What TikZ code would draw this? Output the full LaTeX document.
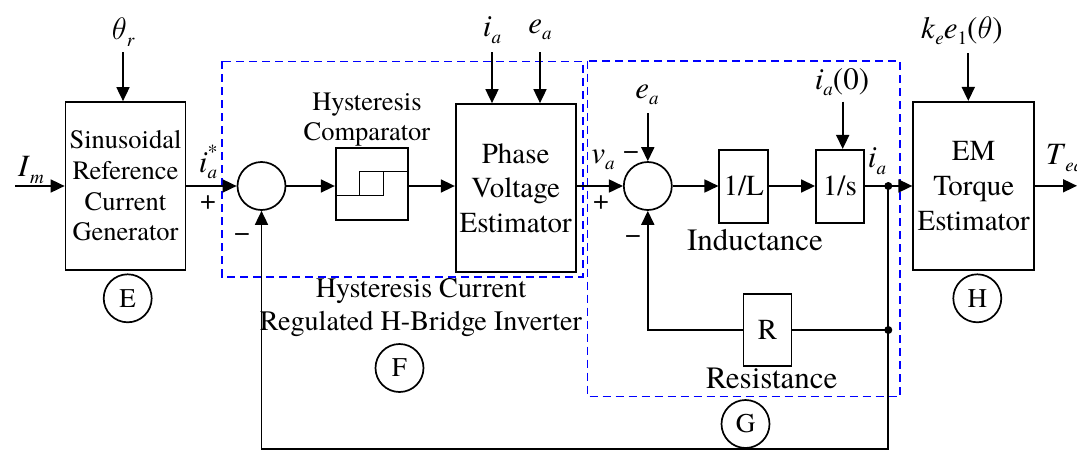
\RequirePackage{fix-cm}
\documentclass[tikz,border=0pt]{standalone}
\usepackage{fontspec}
\setmainfont{texgyretermes}[Extension=.otf, UprightFont=*-regular, ItalicFont=*-italic, BoldFont=*-bold, BoldItalicFont=*-bolditalic]
\usetikzlibrary{arrows.meta}
\newcommand\sbx[1]{\raisebox{-6.5pt}{\fontsize{19}{19}\selectfont\itshape #1}}
\newcommand\sbu[1]{\raisebox{-6.5pt}{\fontsize{19}{19}\selectfont #1}}
\newcommand\spx[1]{\raisebox{14pt}{\fontsize{20}{20}\selectfont #1}}
\newcommand\thx{$\theta$}
\begin{document}
\begin{tikzpicture}[x=1pt,y=-1pt,
  line width=1.7pt,
  >={Triangle[length=14pt,width=13pt]},
  blk/.style={draw,inner sep=0pt,align=center,font=\fontsize{29}{34.5}\selectfont},
  smallblk/.style={draw,inner sep=0pt,font=\fontsize{29}{29}\selectfont},
  sumc/.style={draw,circle,minimum size=48pt,inner sep=0pt},
  tagc/.style={draw,circle,minimum size=48pt,inner sep=0pt,font=\fontsize{27}{27}\selectfont},
  lab/.style={inner sep=0pt,font=\fontsize{31}{31}\selectfont},
  sgn/.style={inner sep=0pt,font=\fontsize{28}{28}\selectfont},
  txt/.style={inner sep=0pt,align=center,font=\fontsize{31}{32}\selectfont},
  grp/.style={draw=blue,dash pattern=on 8pt off 5pt,line width=1.6pt},
  jdot/.style={circle,fill,inner sep=0pt,minimum size=8pt},
]
\useasboundingbox (0,0) rectangle (1077,450);

% group frames
\draw[grp] (221.7,61.3) rectangle (582.7,276.7);
\draw[grp] (587.5,60.7) rectangle (900,396.5);

% blocks
\node[blk,minimum width=120pt,minimum height=168pt,font=\fontsize{26.5}{30.7}\selectfont] (E) at (125.5,186) {Sinusoidal\\Reference\\Current\\Generator};
\node[sumc] (S1) at (261.5,186) {};
\node[draw,minimum width=72pt,minimum height=72pt,inner sep=0pt] (HC) at (371.7,184.2) {};
\draw[line width=1.5pt] ([shift={(-36,11.5)}]HC.center) -- ([shift={(12,11.5)}]HC.center) -- ([shift={(12,-12.5)}]HC.center)
      ([shift={(-12,11.5)}]HC.center) -- ([shift={(-12,-12.5)}]HC.center) -- ([shift={(36,-12.5)}]HC.center);
\node[txt,font=\fontsize{26.5}{30}\selectfont] (HCt) at (367,120) {Hysteresis\\Comparator};
\node[blk,minimum width=120pt,minimum height=168pt] (PVE) at (515.7,188) {Phase\\Voltage\\Estimator};
\node[sumc] (S2) at (647.8,186) {};
\node[smallblk,minimum width=49pt,minimum height=73pt] (L) at (743.8,186.3) {1/L};
\node[smallblk,minimum width=48pt,minimum height=73pt] (Int) at (839.9,186.3) {1/s};
\node[txt] (Lt) at (755,240) {Inductance};
\node[smallblk,minimum width=48pt,minimum height=72pt] (R) at (767.5,330) {R};
\node[txt] (Rt) at (771.7,378) {Resistance};
\node[blk,minimum width=121pt,minimum height=168pt,font=\fontsize{29}{35}\selectfont] (H) at (973.7,185.8) {EM\\Torque\\Estimator};
\node[txt,font=\fontsize{28.2}{33}\selectfont] (Ft) at (421,308) {Hysteresis Current\\Regulated H-Bridge Inverter};

% tags
\node[tagc] (tE) at (127.7,298.3) {E};
\node[tagc] (tF) at (399.5,368) {F};
\node[tagc] (tG) at (745.5,424) {G};
\node[tagc] (tH) at (977.3,298.3) {H};

% labels
\node[lab] (lth) at (123,32) {\thx\sbx{r}};
\node[lab] (lIm) at (31,170) {\textit{I}\sbx{m}};
\node[lab] (lis) at (208,162) {\textit{i}\rlap{\spx{*}}\sbx{a}};
\node[sgn] (p1) at (208,203) {+};
\node[sgn] (m1) at (242,238) {−};
\node[lab] (lia) at (492,30) {\textit{i}\sbx{a}};
\node[lab] (lea) at (540,30) {\textit{e}\sbx{a}};
\node[lab] (lva) at (603,160) {\textit{v}\sbx{a}};
\node[sgn] (m2) at (631,156) {−};
\node[sgn] (p2) at (601,203) {+};
\node[lab] (lea2) at (647,95) {\textit{e}\sbx{a}};
\node[sgn] (m3) at (633,240) {−};
\node[lab] (li0) at (842,82) {\textit{i}\sbx{a}(0)};
\node[lab] (lia2) at (877,161) {\textit{i}\sbx{a}};
\node[lab] (lke) at (962,31) {\textit{k}\sbx{e}\textit{e}\sbu{1}(\thx)};
\node[lab,anchor=west] (lT) at (1045,158) {\textit{T}\sbx{ea}};

% coordinates for free ends
\coordinate (cIm) at (15,186);
\coordinate (cth) at (123,52);
\coordinate (cia) at (492,52);
\coordinate (cea) at (540,52);
\coordinate (cea2) at (647.8,113);
\coordinate (ci0) at (842.7,101.7);
\coordinate (cke) at (968.3,53);
\coordinate (cout) at (1077,186);
\coordinate (B1) at (888.3,449);

% junctions
\node[jdot] (D1) at (888.3,186) {};
\node[jdot] (D2) at (888.3,330) {};

% connectors
\draw[->] (cIm) -- (cIm -| E.west);
\draw[->] (cth) -- (cth |- E.north);
\draw[->] (E.east |- S1.west) -- (S1.west);
\draw[->] (S1.east) -- (S1.east -| HC.west);
\draw[->] (S1.east -| HC.east) -- (S1.east -| PVE.west);
\draw[->] (cia) -- (cia |- PVE.north);
\draw[->] (cea) -- (cea |- PVE.north);
\draw[->] (S2.west -| PVE.east) -- (S2.west);
\draw[->] (cea2) -- (S2.north);
\draw[->] (S2.east) -- (S2.east -| L.west);
\draw[->] (S2.east -| L.east) -- (S2.east -| Int.west);
\draw[->] (ci0) -- (ci0 |- Int.north);
\draw[->] (S2.east -| Int.east) -- (S2.east -| H.west);
\draw[->] (cke) -- (cke |- H.north);
\draw[->] (H.east) -- (H.east -| cout);
\draw[->] (D1.center) -- (B1) -| (S1.south);
\draw (D2.center) -- (R.east);
\draw[->] (R.west) -| (S2.south);
\end{tikzpicture}
\end{document}
